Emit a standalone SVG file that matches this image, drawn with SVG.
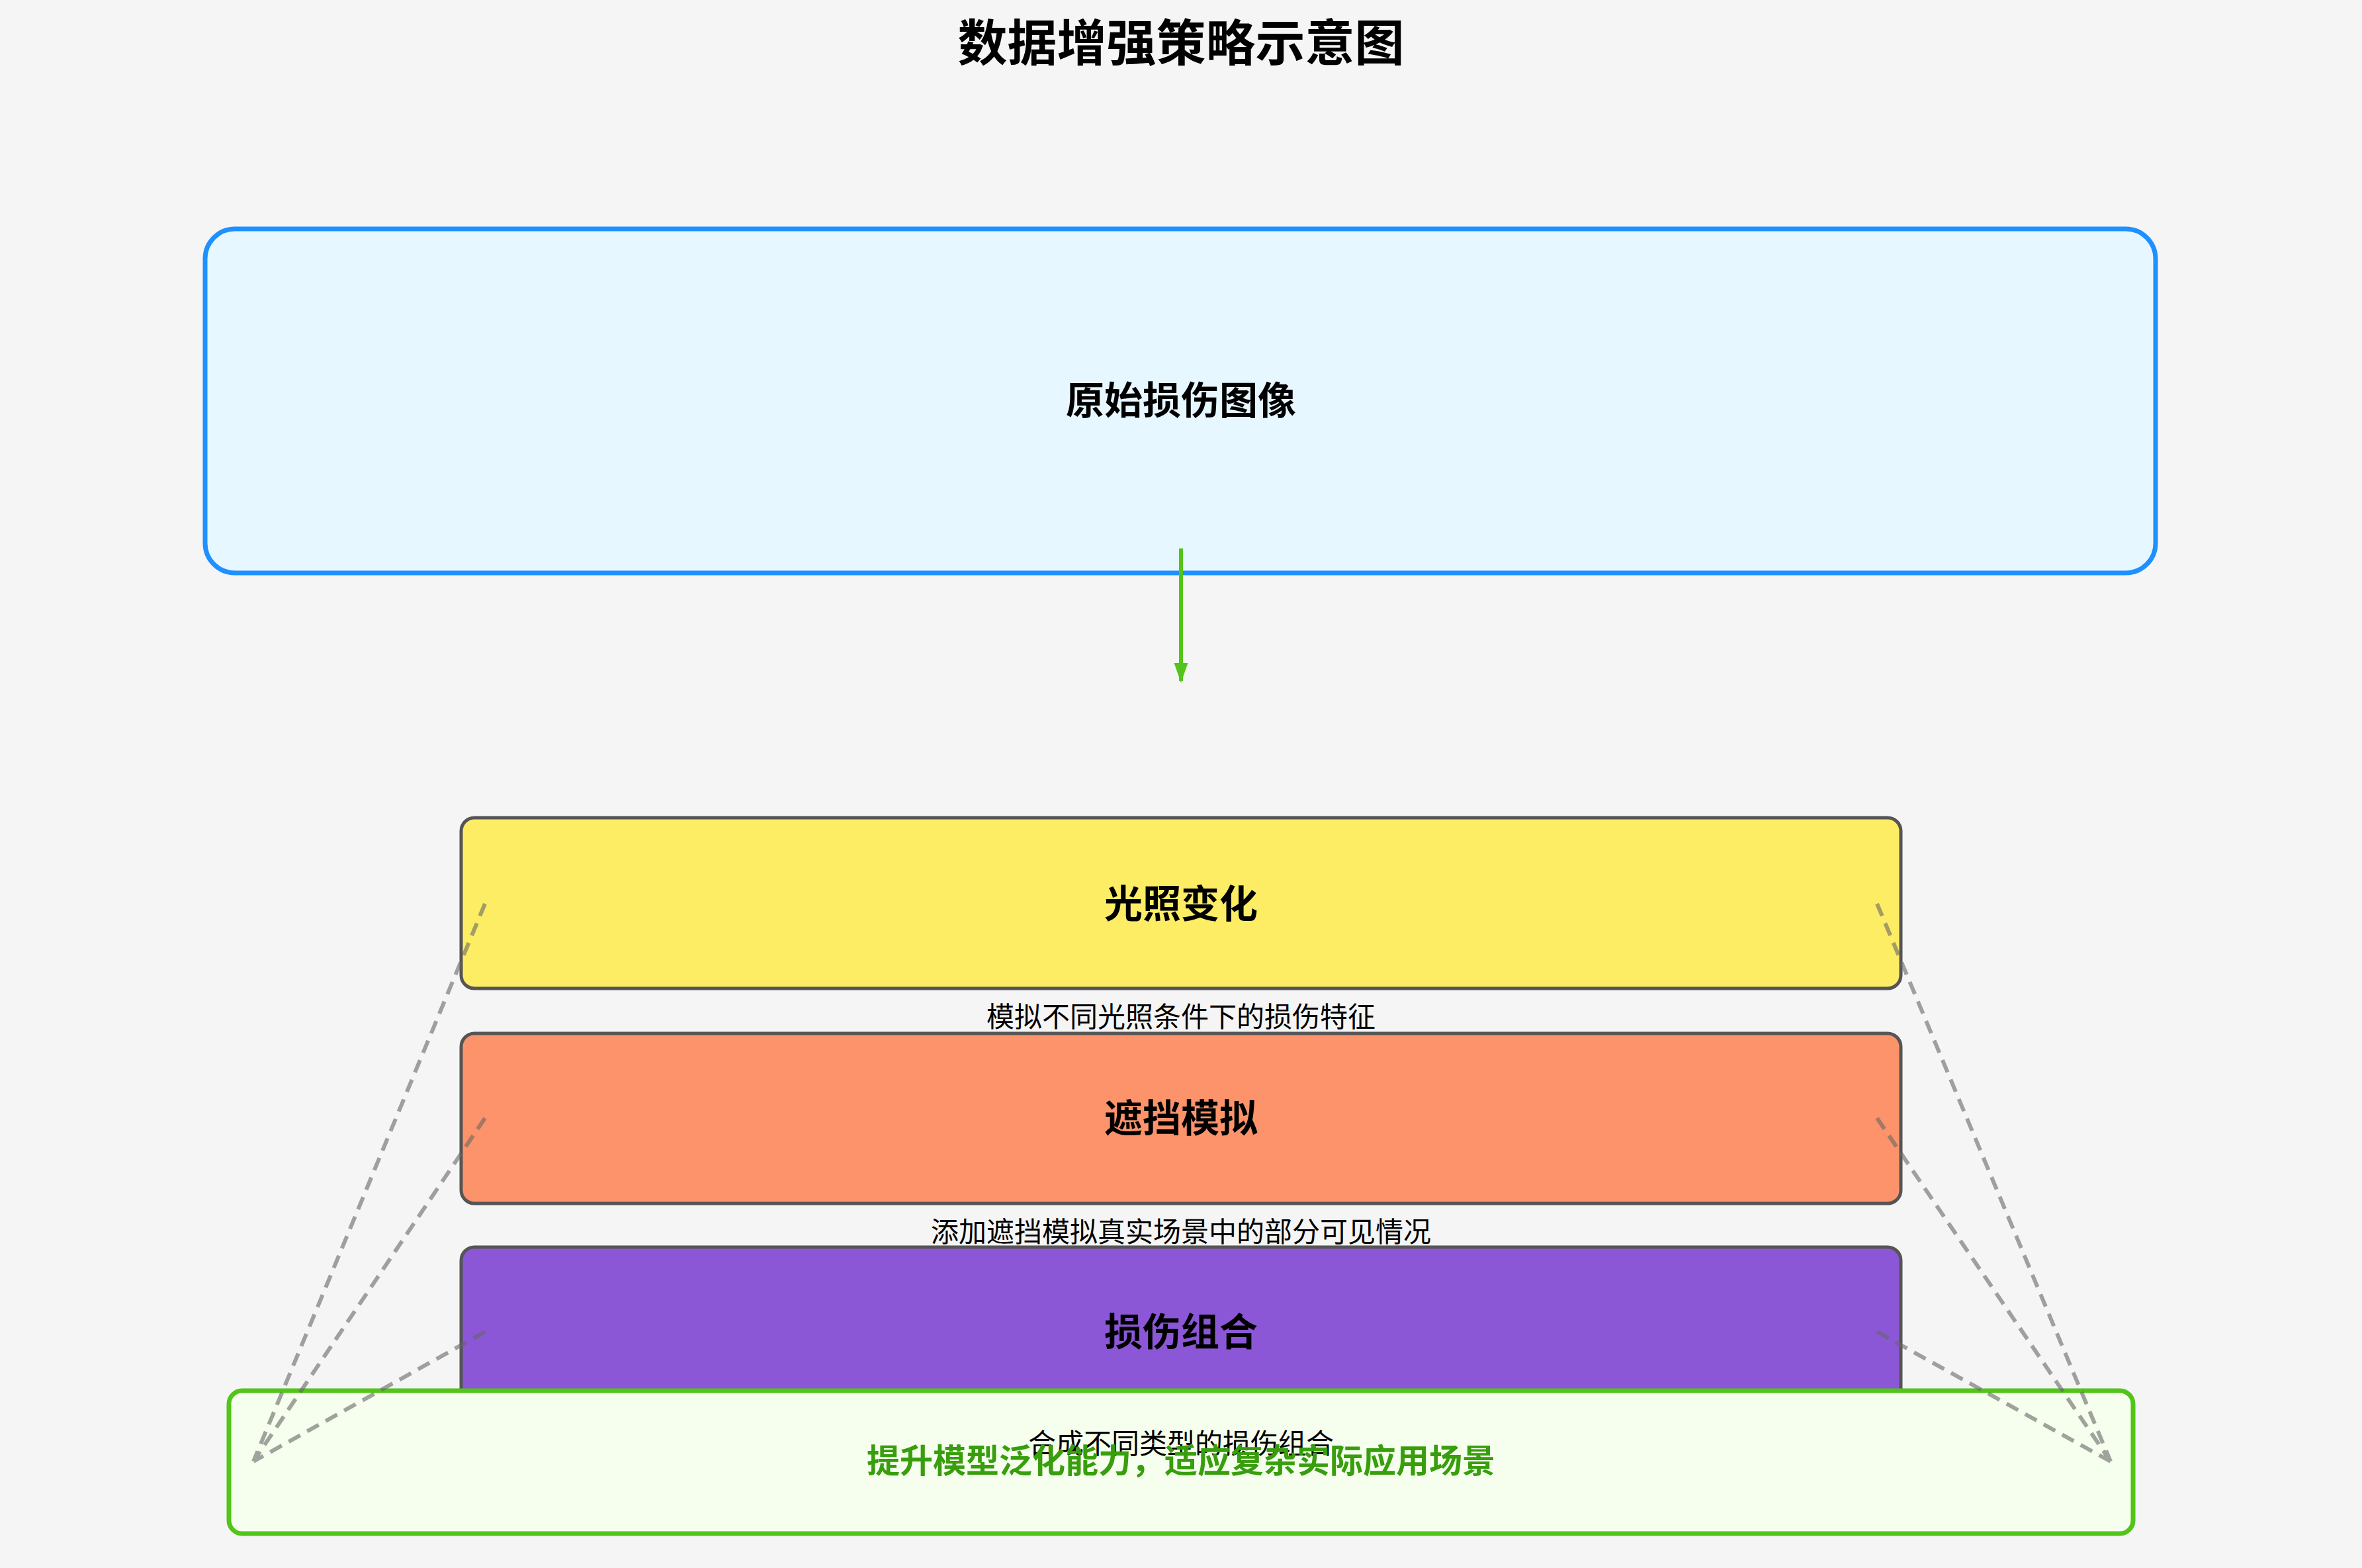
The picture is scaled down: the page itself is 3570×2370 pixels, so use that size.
<svg xmlns="http://www.w3.org/2000/svg" width="3570" height="2370" viewBox="0 0 3570 2370">
<style>
text{font-family:"Liberation Sans","Noto Sans CJK SC",sans-serif;text-anchor:middle;dominant-baseline:central}
.t{font-weight:bold;font-size:58px;fill:#000}
.d{font-size:42px;fill:#000}
.box{stroke:#555;stroke-width:5}
.dash{stroke:#666;stroke-opacity:0.6;stroke-width:6;stroke-dasharray:20 12;fill:none}
</style>
<defs><marker id="ah2" viewBox="0 0 10 10" refX="9" refY="5" markerWidth="5" markerHeight="6" orient="auto"><path d="M0,1.5 L10,5 L0,8.5 z" fill="#52c41a"/></marker></defs>
<rect width="3570" height="2370" fill="#f5f5f5"/>
<text x="1785" y="66" style="font-weight:bold;font-size:75px">数据增强策略示意图</text>
<g id="original"><rect x="310" y="346" width="2948" height="520" rx="45" fill="#e6f7ff" stroke="#1e90ff" stroke-width="7"/><text class="t" x="1785" y="605">原始损伤图像</text></g>
<g id="light"><rect class="box" x="697" y="1236" width="2176" height="258" rx="20" fill="#fded64"/><text class="t" x="1785" y="1366">光照变化</text></g>
<g id="occl"><rect class="box" x="697" y="1562" width="2176" height="257" rx="20" fill="#fc936a"/><text class="t" x="1785" y="1690">遮挡模拟</text></g>
<g id="combo"><rect class="box" x="697" y="1885" width="2176" height="258" rx="20" fill="#8b57d6"/><text class="t" x="1785" y="2013">损伤组合</text></g>
<text class="d" x="1785" y="1537">模拟不同光照条件下的损伤特征</text>
<text class="d" x="1785" y="1862">添加遮挡模拟真实场景中的部分可见情况</text>
<g id="result"><rect x="346" y="2102" width="2878" height="216" rx="20" fill="#f6ffed" stroke="#52c41a" stroke-width="7"/>
<text class="d" x="1785" y="2182">合成不同类型的损伤组合</text>
<text x="1785" y="2209" style="font-weight:bold;font-size:50px;fill:#389e0d">提升模型泛化能力，适应复杂实际应用场景</text></g>
<g id="connectors">
<line x1="1785" y1="829" x2="1785" y2="1029" stroke="#52c41a" stroke-width="6" marker-end="url(#ah2)"/>
<path class="dash" d="M733,1366L383,2209M733,1690L383,2209M733,2013L383,2209M2837,1366L3190,2209M2837,1690L3190,2209M2837,2013L3190,2209"/>
</g>
</svg>
